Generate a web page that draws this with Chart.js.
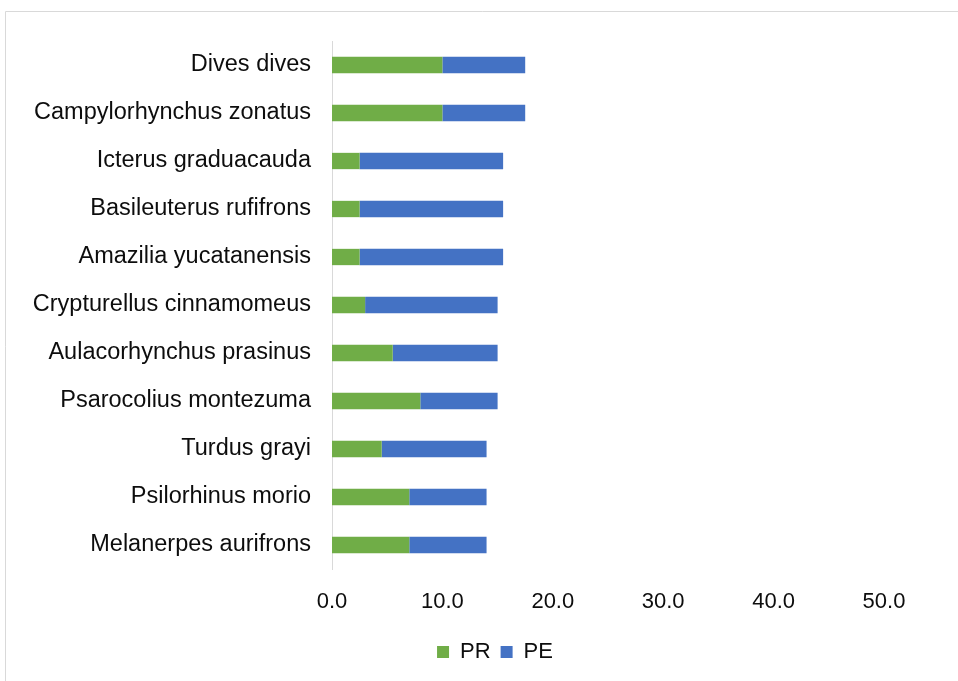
<!DOCTYPE html>
<html>
<head>
<meta charset="utf-8">
<script src="https://cdn.jsdelivr.net/npm/chart.js@4"></script>
<style>
  html, body { margin: 0; padding: 0; background: #fff; }
  #wrap { position: relative; width: 958px; height: 681px; }
</style>
</head>
<body>
<div id="wrap"><canvas id="c" width="958" height="681"></canvas></div>
<script>
const species = [
  'Dives dives',
  'Campylorhynchus zonatus',
  'Icterus graduacauda',
  'Basileuterus rufifrons',
  'Amazilia yucatanensis',
  'Crypturellus cinnamomeus',
  'Aulacorhynchus prasinus',
  'Psarocolius montezuma',
  'Turdus grayi',
  'Psilorhinus morio',
  'Melanerpes aurifrons'
];
const prValues = [10, 10, 2.5, 2.5, 2.5, 3, 5.5, 8, 4.5, 7, 7];
const peValues = [7.5, 7.5, 13, 13, 13, 12, 9.5, 7, 9.5, 7, 7];
const xTicks = [0, 10, 20, 30, 40, 50];

const FONT = "'Liberation Sans', Arial, sans-serif";
const TEXT = '#0d0d0d';

// Thin frame around the chart (top and left edges visible in the window)
const frame = {
  id: 'frame',
  beforeDraw(chart) {
    const ctx = chart.ctx;
    ctx.save();
    ctx.strokeStyle = '#d9d9d9';
    ctx.lineWidth = 1;
    ctx.beginPath();
    ctx.moveTo(5.5, 700);
    ctx.lineTo(5.5, 11.5);
    ctx.lineTo(970, 11.5);
    ctx.stroke();
    ctx.restore();
  }
};

// Center the legend under the whole figure rather than the padded layout box
const legendShift = {
  id: 'legendShift',
  afterLayout(chart) {
    if (chart.legend) chart.legend.left += 106;
  }
};

new Chart(document.getElementById('c'), {
  type: 'bar',
  data: {
    labels: species,
    datasets: [
      { label: 'PR', data: prValues, backgroundColor: '#70AD47', borderWidth: 0 },
      { label: 'PE', data: peValues, backgroundColor: '#4472C4', borderWidth: 0 }
    ]
  },
  options: {
    indexAxis: 'y',
    responsive: false,
    animation: false,
    events: [],
    layout: { padding: { top: 41, right: 74, left: 0, bottom: 8 } },
    datasets: { bar: { barPercentage: 1, categoryPercentage: 0.34 } },
    scales: {
      x: {
        stacked: true,
        min: 0,
        max: 50,
        afterBuildTicks(scale) { scale.ticks = xTicks.map(v => ({ value: v })); },
        afterFit(scale) { scale.height = 62; },
        grid: { display: false, drawTicks: false },
        border: { display: false },
        ticks: {
          padding: 20,
          color: TEXT,
          font: { family: FONT, size: 22 },
          callback: v => Number(v).toFixed(1)
        }
      },
      y: {
        stacked: true,
        afterFit(scale) { scale.width = 332; },
        grid: { display: false, drawTicks: false },
        border: { display: true, color: '#d9d9d9', width: 1 },
        ticks: {
          padding: 21,
          color: TEXT,
          font: { family: FONT, size: 23.5 }
        }
      }
    },
    plugins: {
      legend: {
        position: 'bottom',
        labels: {
          boxWidth: 12,
          boxHeight: 12,
          padding: 10,
          color: TEXT,
          font: { family: FONT, size: 22 }
        }
      },
      tooltip: { enabled: false }
    }
  },
  plugins: [frame, legendShift]
});
</script>
</body>
</html>
